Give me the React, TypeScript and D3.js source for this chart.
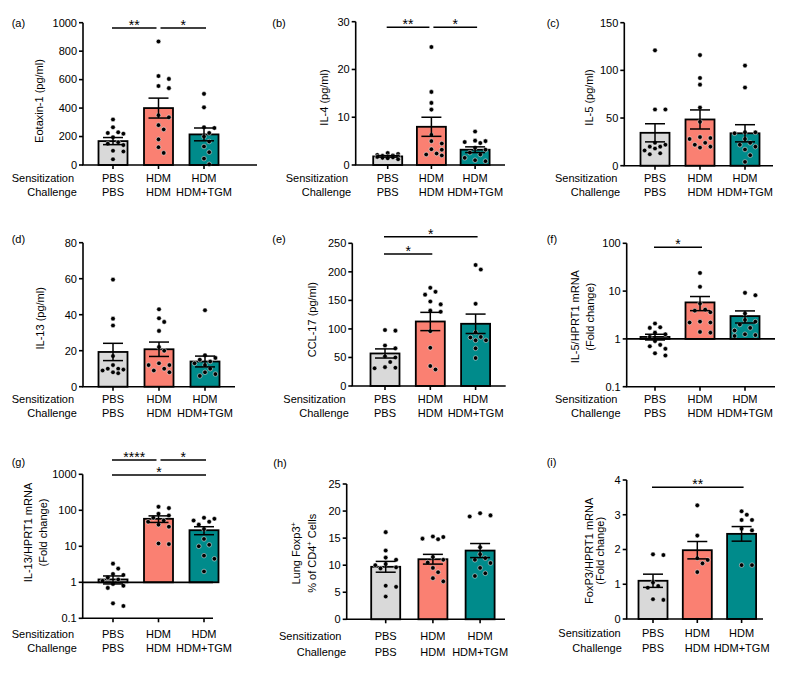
import React from "react";
import * as d3 from "d3";

// ---------- shared categories ----------
const sensitization = ["PBS", "HDM", "HDM"];
const challenge = ["PBS", "HDM", "HDM+TGM"];
const groupColors = ["#d9d9d9", "#fa8072", "#008b8b"];

// ---------- (a) Eotaxin-1 ----------
const eotaxinPoints = [
  [320, 265, 230, 225, 220, 195, 160, 150, 140, 100, 95, 40],
  [868, 625, 605, 555, 540, 350, 335, 280, 250, 180, 125, 85],
  [500, 405, 265, 260, 225, 200, 165, 130, 90, 45, 5],
];
const eotaxinMean = [168, 400, 215];
const eotaxinSem = [25, 70, 45];
const eotaxinTicks = [0, 200, 400, 600, 800, 1000];

// ---------- (b) IL-4 ----------
const il4Points = [
  [2.5, 2.3, 2.1, 2.0, 1.9, 1.8, 1.8, 1.7, 1.6, 1.5, 1.4, 1.2],
  [24.7, 15.3, 13.0, 11.6, 6.3, 5.0, 4.5, 3.3, 3.2, 2.4, 2.2, 2.0],
  [7.0, 5.1, 5.0, 4.8, 4.6, 3.6, 3.2, 2.6, 2.2, 1.5, 1.0, 0.8],
];
const il4Mean = [1.8, 8.0, 3.2];
const il4Sem = [0.15, 2.0, 0.6];
const il4Ticks = [0, 10, 20, 30];

// ---------- (c) IL-5 ----------
const il5Points = [
  [121, 59, 59, 24, 22, 20, 20, 18, 16, 13, 12],
  [116, 92, 85, 61, 46, 30, 29, 28, 24, 22, 20, 19],
  [105, 82, 35, 35, 34, 28, 24, 22, 20, 17, 11, 4],
];
const il5Mean = [34.5, 48.5, 34];
const il5Sem = [9.5, 10, 9];
const il5Ticks = [0, 50, 100, 150];

// ---------- (d) IL-13 ----------
const il13Points = [
  [59.5, 37.8, 34, 17, 12, 10, 10, 9.5, 9, 8, 7.5],
  [43, 38, 36, 31, 22, 20, 13, 12, 12, 10, 9, 8],
  [42.5, 17.5, 16, 15, 14, 13, 12, 10, 8, 7, 6],
];
const il13Mean = [19.3, 20.8, 14];
const il13Sem = [4.8, 4, 3];
const il13Ticks = [0, 20, 40, 60, 80];

// ---------- (e) CCL-17 ----------
const ccl17Points = [
  [98, 97, 71, 66, 52, 50, 42, 33, 32, 31],
  [172, 165, 160, 148, 143, 132, 130, 96, 67, 35, 29],
  [212, 204, 144, 94, 86, 85, 80, 80, 66, 49],
];
const ccl17Mean = [57, 113, 109];
const ccl17Sem = [8, 16, 17];
const ccl17Ticks = [0, 50, 100, 150, 200, 250];

// ---------- (f) IL-5/HPRT1 mRNA ----------
const il5mrnaPoints = [
  [2.1, 1.75, 1.7, 1.35, 1.25, 1.1, 0.9, 0.75, 0.7, 0.62, 0.5, 0.45],
  [24, 12.3, 5.5, 4.1, 3.9, 3.6, 2.3, 2.2, 2.2, 1.4, 1.35],
  [9.2, 8.2, 3.4, 2.5, 2.3, 2.0, 1.7, 1.5, 1.25, 1.2, 1.15],
];
const il5mrnaMean = [1.1, 5.8, 3.0];
const il5mrnaSem = [0.15, 1.9, 0.85];
const il5mrnaTicks = [0.1, 1, 10, 100];

// ---------- (g) IL-13/HPRT1 mRNA ----------
const il13mrnaPoints = [
  [3.3, 2.4, 1.7, 1.6, 1.35, 1.2, 1.1, 0.9, 0.8, 0.7, 0.26, 0.22],
  [125, 115, 80, 72, 62, 52, 48, 40, 35, 12, 11.5],
  [62, 58, 52, 48, 40, 30, 16, 11, 10, 5.5, 4.5, 2],
];
const il13mrnaMean = [1.2, 58, 28];
const il13mrnaSem = [0.3, 12, 7];
const il13mrnaTicks = [0.1, 1, 10, 100, 1000];

// ---------- (h) Lung Foxp3+ ----------
const foxp3Points = [
  [16.1, 12.7, 11.4, 11.0, 10.2, 10.0, 9.6, 9.4, 6.2, 6.0, 4.2],
  [15.3, 15.2, 14.9, 14.8, 11.5, 11.0, 10.5, 9.5, 8.7, 7.6, 7.0],
  [19.6, 19.2, 19.0, 13.3, 12.0, 11.3, 11.0, 10.4, 9.5, 8.5, 8.0],
];
const foxp3Mean = [9.7, 11.1, 12.7];
const foxp3Sem = [1.0, 0.9, 1.3];
const foxp3Ticks = [0, 5, 10, 15, 20, 25];

// ---------- (i) FoxP3/HPRT1 mRNA ----------
const foxp3mrnaPoints = [
  [1.86, 1.84, 1.05, 0.95, 0.9, 0.57, 0.55],
  [3.27, 2.4, 1.75, 1.7, 1.6, 1.35],
  [3.1, 3.0, 2.85, 2.85, 2.6, 2.55, 1.55, 1.55],
];
const foxp3mrnaMean = [1.1, 1.98, 2.45];
const foxp3mrnaSem = [0.19, 0.25, 0.21];
const foxp3mrnaTicks = [0, 1, 2, 3, 4];

// ---------- significance ----------
const sigA = [
  { from: 0, to: 1, label: "**", level: 0 },
  { from: 1, to: 2, label: "*", level: 0 },
];
const sigB = [
  { from: 0, to: 1, label: "**", level: 0 },
  { from: 1, to: 2, label: "*", level: 0 },
];
const sigE = [
  { from: 0, to: 1, label: "*", level: 0 },
  { from: 0, to: 2, label: "*", level: 1 },
];
const sigF = [{ from: 0, to: 1, label: "*", level: 0 }];
const sigG = [
  { from: 0, to: 2, label: "*", level: 0 },
  { from: 0, to: 1, label: "****", level: 1 },
  { from: 1, to: 2, label: "*", level: 1 },
];
const sigI = [{ from: 0, to: 2, label: "**", level: 0 }];

type Sig = { from: number; to: number; label: string; level: number };

type PanelDef = {
  letter: string;
  title: React.ReactNode[];
  log?: boolean;
  ticks: number[];
  points: number[][];
  mean: number[];
  sem: number[];
  sig: Sig[];
  L: {
    axisX: number; top: number; bottom: number; first: number; step: number; axisEnd: number;
    letterX: number; letterY: number; titleX: number[]; titleY: number;
    sensX: number; challX: number; sensY: number; challY: number; sigY: number[];
  };
};

const sup = (t: string) => (
  <tspan key={t} fontSize={7.5} dy={-4.5}>{t}</tspan>
);

const panels: PanelDef[] = [
  {
    letter: "(a)", title: ["Eotaxin-1 (pg/ml)"], ticks: eotaxinTicks,
    points: eotaxinPoints, mean: eotaxinMean, sem: eotaxinSem, sig: sigA,
    L: { axisX: 83, top: 22.7, bottom: 165, first: 113, step: 45.5, axisEnd: 257,
      letterX: 11.7, letterY: 26.5, titleX: [43], titleY: 101,
      sensX: 11.7, challX: 27.3, sensY: 182, challY: 196, sigY: [28] },
  },
  {
    letter: "(b)", title: ["IL-4 (pg/ml)"], ticks: il4Ticks,
    points: il4Points, mean: il4Mean, sem: il4Sem, sig: sigB,
    L: { axisX: 355.7, top: 21.7, bottom: 165, first: 387.7, step: 43.7, axisEnd: 505,
      letterX: 272.3, letterY: 26.5, titleX: [328], titleY: 97.5,
      sensX: 285.7, challX: 301.7, sensY: 182, challY: 196, sigY: [27.3] },
  },
  {
    letter: "(c)", title: ["IL-5 (pg/ml)"], ticks: il5Ticks,
    points: il5Points, mean: il5Mean, sem: il5Sem, sig: [],
    L: { axisX: 624.3, top: 22.7, bottom: 165.7, first: 655, step: 45, axisEnd: 773,
      letterX: 546.7, letterY: 26.5, titleX: [593], titleY: 97.5,
      sensX: 555, challX: 570.7, sensY: 182, challY: 196, sigY: [] },
  },
  {
    letter: "(d)", title: ["IL-13 (pg/ml)"], ticks: il13Ticks,
    points: il13Points, mean: il13Mean, sem: il13Sem, sig: [],
    L: { axisX: 83, top: 242.7, bottom: 386.7, first: 113, step: 46, axisEnd: 235,
      letterX: 11.7, letterY: 243, titleX: [44], titleY: 318.3,
      sensX: 11.7, challX: 27.3, sensY: 403, challY: 417, sigY: [] },
  },
  {
    letter: "(e)", title: ["CCL-17 (pg/ml)"], ticks: ccl17Ticks,
    points: ccl17Points, mean: ccl17Mean, sem: ccl17Sem, sig: sigE,
    L: { axisX: 352.3, top: 243.3, bottom: 386, first: 385, step: 45.3, axisEnd: 505.7,
      letterX: 272.3, letterY: 243, titleX: [316], titleY: 319.7,
      sensX: 283.3, challX: 299.3, sensY: 403, challY: 417, sigY: [254, 236.7] },
  },
  {
    letter: "(f)", title: ["IL-5/HPRT1 mRNA", "(Fold change)"], log: true, ticks: il5mrnaTicks,
    points: il5mrnaPoints, mean: il5mrnaMean, sem: il5mrnaSem, sig: sigF,
    L: { axisX: 626.7, top: 243.3, bottom: 386.7, first: 655, step: 45, axisEnd: 775,
      letterX: 546.7, letterY: 243, titleX: [579, 594], titleY: 316.7,
      sensX: 555, challX: 571, sensY: 403, challY: 417, sigY: [247.3] },
  },
  {
    letter: "(g)", title: ["IL-13/HPRT1 mRNA", "(Fold change)"], log: true, ticks: il13mrnaTicks,
    points: il13mrnaPoints, mean: il13mrnaMean, sem: il13mrnaSem, sig: sigG,
    L: { axisX: 82.7, top: 474.3, bottom: 618.3, first: 113, step: 45.5, axisEnd: 213,
      letterX: 11.7, letterY: 466, titleX: [32, 47], titleY: 532.5,
      sensX: 11.7, challX: 27.3, sensY: 637.5, challY: 652, sigY: [475, 460] },
  },
  {
    letter: "(h)", title: [["Lung Foxp3", sup("+")], ["% of CD4", sup("+"), <tspan key="c" dy={4.5}> Cells</tspan>]] as any,
    ticks: foxp3Ticks,
    points: foxp3Points, mean: foxp3Mean, sem: foxp3Sem, sig: [],
    L: { axisX: 346.7, top: 484, bottom: 619.3, first: 385.7, step: 47.2, axisEnd: 505,
      letterX: 273.3, letterY: 466.7, titleX: [300, 316], titleY: 553.3,
      sensX: 279, challX: 296.7, sensY: 640, challY: 656, sigY: [] },
  },
  {
    letter: "(i)", title: ["FoxP3/HPRT1 mRNA", "(Fold change)"], ticks: foxp3mrnaTicks,
    points: foxp3mrnaPoints, mean: foxp3mrnaMean, sem: foxp3mrnaSem, sig: sigI,
    L: { axisX: 626.7, top: 480, bottom: 619, first: 653, step: 44.3, axisEnd: 763,
      letterX: 546.7, letterY: 466, titleX: [592.5, 604], titleY: 550.8,
      sensX: 558.3, challX: 572.3, sensY: 637, challY: 652, sigY: [487.3] },
  },
];

const FONT = "'Liberation Sans', Arial, Helvetica, sans-serif";
const FS = 11;
const BAR_W = 29;
const R = 2.3;

// deterministic beeswarm: offsets points horizontally to avoid overlap,
// limited to a maximum spread around the bar centre
function dodge(ys: number[], cx: number): number[] {
  const order = d3.range(ys.length).sort((a, b) => ys[a] - ys[b]);
  const placed: { x: number; y: number }[] = [];
  const xs = new Array(ys.length).fill(cx);
  const step = 5.2;
  const minD = 6.2;
  const maxOff = 14;
  const offsets: number[] = [0];
  for (let k = 1; k * step <= maxOff; k++) offsets.push(k * step, -k * step);
  for (const i of order) {
    const y = ys[i];
    let best = offsets[0], bestD = -1;
    for (const off of offsets) {
      const x = cx + off;
      const d = placed.length
        ? Math.min(...placed.map((p) => Math.hypot(p.x - x, p.y - y)))
        : Infinity;
      if (d >= minD) { best = off; bestD = d; break; }
      if (d > bestD) { bestD = d; best = off; }
    }
    xs[i] = cx + best;
    placed.push({ x: cx + best, y });
  }
  return xs;
}

function Panel({ p }: { p: PanelDef }) {
  const L = p.L;
  const y: any = p.log
    ? d3.scaleLog().domain([p.ticks[0], p.ticks[p.ticks.length - 1]]).range([L.bottom, L.top])
    : d3.scaleLinear().domain([p.ticks[0], p.ticks[p.ticks.length - 1]]).range([L.bottom, L.top]);
  const x = d3.scalePoint<number>().domain([0, 1, 2]).range([L.first, L.first + 2 * L.step]);
  const base = p.log ? 1 : 0;

  return (
    <g fontFamily={FONT} fontSize={FS} fill="#000">
      <text x={L.letterX} y={L.letterY} fontSize={FS}>{p.letter}</text>

      {/* y axis title */}
      {p.title.map((t, i) => (
        <text key={i} transform={`translate(${L.titleX[i]},${L.titleY}) rotate(-90)`} textAnchor="middle">
          {t}
        </text>
      ))}

      {/* bars */}
      {p.mean.map((m, i) => {
        const y0 = y(base), y1 = y(m);
        return (
          <rect key={"b" + i} x={(x(i) as number) - BAR_W / 2} y={Math.min(y0, y1)} width={BAR_W}
            height={Math.abs(y0 - y1)} fill={groupColors[i]} stroke="#000" strokeWidth={1.8} />
        );
      })}

      {/* points */}
      {p.points.map((vals, i) => {
        const ys = vals.map((v) => y(v));
        const xs = dodge(ys, x(i) as number);
        return vals.map((v, j) => (
          <circle key={`p${i}-${j}`} cx={xs[j]} cy={ys[j]} r={R} fill="#000" stroke="#fff" strokeWidth={0.5} />
        ));
      })}

      {/* error bars */}
      {p.mean.map((m, i) => {
        const cx = x(i) as number;
        const lo = y(m - p.sem[i]), hi = y(m + p.sem[i]);
        return (
          <g key={"e" + i} stroke="#000" strokeWidth={1.5}>
            <line x1={cx} x2={cx} y1={lo} y2={hi} />
            <line x1={cx - 10} x2={cx + 10} y1={hi} y2={hi} />
            <line x1={cx - 10} x2={cx + 10} y1={lo} y2={lo} />
          </g>
        );
      })}

      {/* baseline at 1 for log panels */}
      {p.log && (
        <line x1={L.axisX} x2={L.axisEnd} y1={y(1)} y2={y(1)} stroke="#000" strokeWidth={1.8} />
      )}

      {/* y axis */}
      <line x1={L.axisX} x2={L.axisX} y1={L.top} y2={L.bottom} stroke="#000" strokeWidth={1.6} />
      {p.ticks.map((t) => (
        <g key={"t" + t}>
          <line x1={L.axisX - 4} x2={L.axisX} y1={y(t)} y2={y(t)} stroke="#000" strokeWidth={1.6} />
          <text x={L.axisX - 6} y={y(t)} dy="0.35em" textAnchor="end">{String(t)}</text>
        </g>
      ))}

      {/* x axis */}
      <line x1={L.axisX - 0.8} x2={L.axisEnd} y1={L.bottom} y2={L.bottom} stroke="#000" strokeWidth={1.6} />
      {[0, 1, 2].map((i) => (
        <line key={"xt" + i} x1={x(i) as number} x2={x(i) as number} y1={L.bottom} y2={L.bottom + 4}
          stroke="#000" strokeWidth={1.6} />
      ))}

      {/* category labels */}
      <text x={L.sensX} y={L.sensY}>Sensitization</text>
      <text x={L.challX} y={L.challY}>Challenge</text>
      {sensitization.map((s, i) => (
        <text key={"s" + i} x={x(i) as number} y={L.sensY} textAnchor="middle">{s}</text>
      ))}
      {challenge.map((s, i) => (
        <text key={"c" + i} x={x(i) as number} y={L.challY} textAnchor="middle">{s}</text>
      ))}

      {/* significance */}
      {p.sig.map((s, k) => {
        const ly = L.sigY[s.level];
        const sameLevel = p.sig.filter((o) => o.level === s.level && o !== s);
        const sharedStart = sameLevel.some((o) => o.to === s.from);
        const sharedEnd = sameLevel.some((o) => o.from === s.to);
        const x1 = (x(s.from) as number) + (sharedStart ? 2 : -1);
        const x2 = (x(s.to) as number) + (sharedEnd ? -2 : 2);
        return (
          <g key={"sg" + k}>
            <line x1={x1} x2={x2} y1={ly} y2={ly} stroke="#000" strokeWidth={1.4} />
            <text x={(x1 + x2) / 2} y={ly + 2} textAnchor="middle" fontSize={14}>{s.label}</text>
          </g>
        );
      })}
    </g>
  );
}

export default function App() {
  return (
    <svg width={800} height={675} style={{ position: "absolute", left: 0, top: 0 }}>
      <rect width={800} height={675} fill="#fff" />
      {panels.map((p) => (
        <Panel key={p.letter} p={p} />
      ))}
    </svg>
  );
}
